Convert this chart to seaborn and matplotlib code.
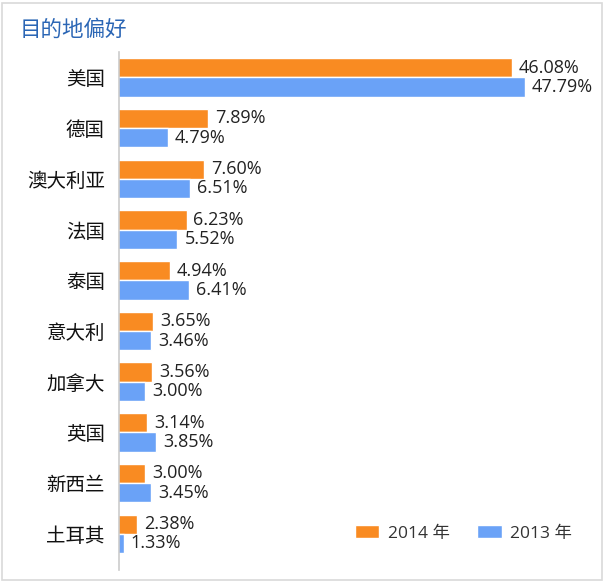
import matplotlib
matplotlib.use("Agg")
import matplotlib.pyplot as plt
from matplotlib.patches import Rectangle
import seaborn as sns
import pandas as pd
import numpy as np

COUNTRIES = ["美国", "德国", "澳大利亚", "法国", "泰国", "意大利", "加拿大", "英国", "新西兰", "土耳其"]
VALUES_2014 = [46.08, 7.89, 7.60, 6.23, 4.94, 3.65, 3.56, 3.14, 3.00, 2.38]
VALUES_2013 = [47.79, 4.79, 6.51, 5.52, 6.41, 3.46, 3.00, 3.85, 3.45, 1.33]
YEARS = ["2014 年", "2013 年"]
COLOR_SET = ["#F98B22", "#6AA2F7"]

sns.set_theme(style="white")
plt.rcParams["font.family"] = ["Noto Sans CJK SC", "DejaVu Sans"]
NUM_FONT = ["Open Sans", "Noto Sans CJK SC"]

# the original infographic squeezes the long bars (USA), so the axis is
# linear up to ~8 % and compressed beyond that
X0, BREAK, LOW, HIGH = 0.94, 8.0, 12.8, 7.93


def squeeze(v):
    v = np.asarray(v, dtype=float)
    return np.where(v <= BREAK, (v - X0) * LOW, (BREAK - X0) * LOW + (v - BREAK) * HIGH)


def unsqueeze(p):
    p = np.asarray(p, dtype=float)
    pb = (BREAK - X0) * LOW
    return np.where(p <= pb, p / LOW + X0, BREAK + (p - pb) / HIGH)


df = pd.DataFrame({
    "country": COUNTRIES * 2,
    "value": VALUES_2014 + VALUES_2013,
    "year": [YEARS[0]] * len(COUNTRIES) + [YEARS[1]] * len(COUNTRIES),
})

fig = plt.figure(figsize=(6.06, 5.85), dpi=100)
ax = fig.add_axes([0.196, 0.026, 0.778, 0.885])

sns.barplot(data=df, y="country", x="value", hue="year", hue_order=YEARS, order=COUNTRIES,
            palette=COLOR_SET, orient="h", width=0.76, saturation=1, ax=ax)

ax.set_xscale("function", functions=(squeeze, unsqueeze))
ax.set_xlim(X0, float(unsqueeze(471)))
ax.set_ylim(9.71, -0.5)

for container in ax.containers:
    ax.bar_label(container, fmt="%.2f%%", padding=5, fontsize=13, color="#222222", family=NUM_FONT)

ax.set_xlabel("")
ax.set_ylabel("")
ax.set_xticks([])
ax.xaxis.set_minor_locator(matplotlib.ticker.NullLocator())
ax.tick_params(axis="y", length=0, labelsize=14, labelcolor="#111111", pad=10)
for side in ["top", "right", "bottom"]:
    ax.spines[side].set_visible(False)
ax.spines["left"].set_color("#cccccc")
ax.spines["left"].set_linewidth(1.2)

ax.legend(loc="center right", bbox_to_anchor=(0.995, 0.07), ncol=2, frameon=False,
          prop={"family": NUM_FONT, "size": 12.5}, handlelength=1.4, handleheight=0.7,
          columnspacing=1.6, handletextpad=0.5, labelcolor="#333333")

fig.text(0.033, 0.949, "目的地偏好", fontsize=15.5, color="#2B66B5", ha="left", va="center")

fig.patches.append(Rectangle((0.004, 0.008), 0.99, 0.987, transform=fig.transFigure,
                             fill=False, edgecolor="#d9d9d9", linewidth=1.2))

fig.savefig("out.png", dpi=100)
